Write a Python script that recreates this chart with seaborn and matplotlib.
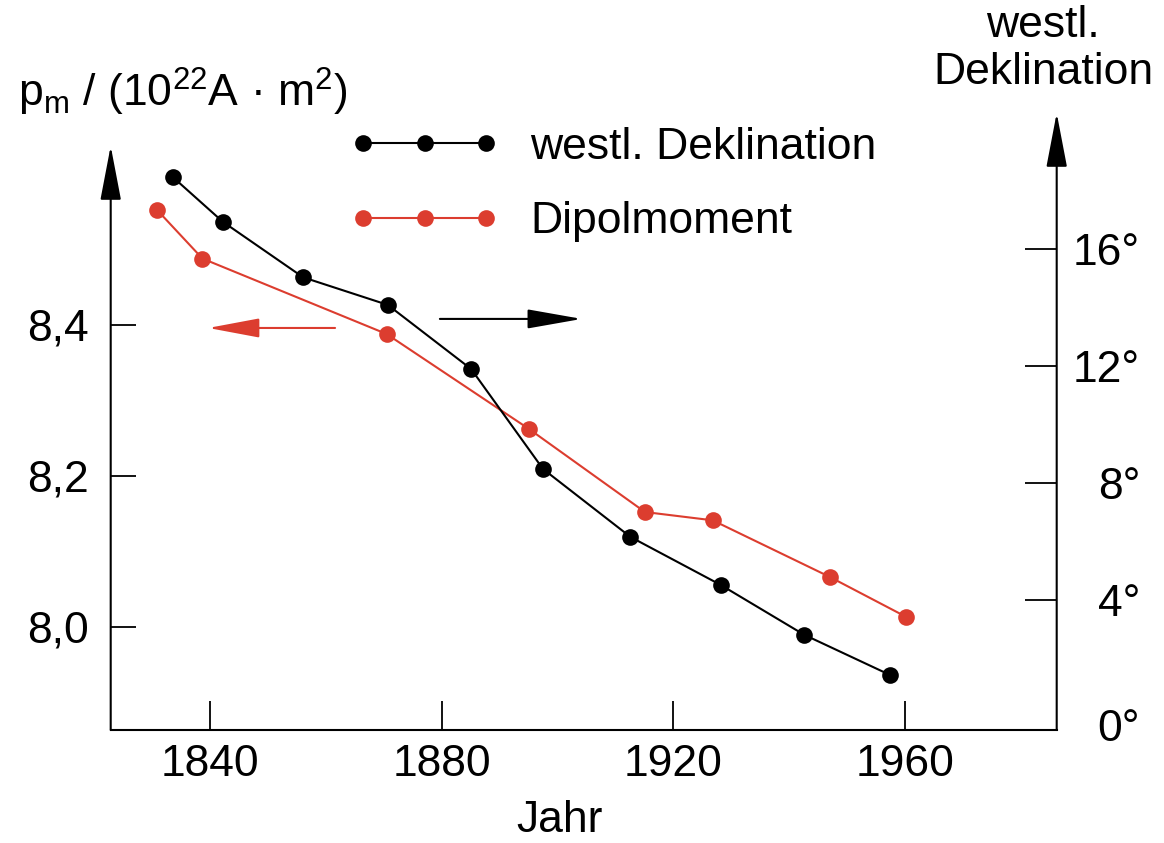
import matplotlib
matplotlib.use("Agg")
import matplotlib.pyplot as plt
import matplotlib.transforms as mtransforms
import seaborn as sns

# values
dipole_years = [1830.8, 1838.7, 1870.5, 1895.1, 1915.1, 1926.8, 1947.0, 1960.2]
dipole_moment = [8.553, 8.488, 8.388, 8.262, 8.152, 8.141, 8.066, 8.013]
decl_years = [1833.6, 1842.2, 1856.1, 1870.7, 1885.1, 1897.5, 1912.6, 1928.2, 1942.6, 1957.4]
decl_west = [18.44, 16.92, 15.02, 14.08, 11.89, 8.48, 6.16, 4.52, 2.82, 1.45]

year_ticks = [1840, 1880, 1920, 1960]
moment_ticks = [8.0, 8.2, 8.4]
moment_labels = ["8,0", "8,2", "8,4"]
decl_ticks = [0, 4, 8, 12, 16]
decl_labels = ["0°", "4°", "8°", "12°", "16°"]

RED = "#dc3d2f"
FS = 32
W, H = 1164, 843

sns.set_theme(style="white")
plt.rcParams["font.family"] = ["Liberation Sans", "DejaVu Sans"]
plt.rcParams["text.color"] = "black"
plt.rcParams["mathtext.fontset"] = "custom"
plt.rcParams["mathtext.rm"] = "Liberation Sans"
plt.rcParams["mathtext.it"] = "Liberation Sans:italic"

fig = plt.figure(figsize=(W / 100, H / 100), dpi=100)
ax = fig.add_axes([110.7 / W, 1 - 730 / H, 946 / W, 617 / H])
ax2 = ax.twinx()

sns.lineplot(x=dipole_years, y=dipole_moment, ax=ax, color=RED, marker="o",
             markersize=12, markeredgewidth=0, linewidth=1.5, legend=False)
sns.lineplot(x=decl_years, y=decl_west, ax=ax2, color="black", marker="o",
             markersize=12, markeredgewidth=0, linewidth=1.5, legend=False)

ax.set_xlim(1822.86, 1986.2)
ax.set_ylim(7.863, 8.681)
ax2.set_ylim(-0.43, 20.63)
for a in (ax, ax2):
    a.set_xlabel("")
    a.set_ylabel("")
    for s in a.spines.values():
        s.set_visible(False)
ax.spines["bottom"].set_visible(True)
ax.spines["bottom"].set_color("black")
ax.spines["bottom"].set_linewidth(1.5)

ax.set_xticks(year_ticks)
ax.set_xticklabels([str(y) for y in year_ticks])
ax.set_yticks(moment_ticks)
ax.set_yticklabels(moment_labels)
ax2.set_yticks(decl_ticks)
ax2.set_yticklabels(decl_labels)

ax.tick_params(axis="x", direction="in", bottom=True, length=21, width=1.3,
               pad=10, labelsize=FS, colors="black")
ax.tick_params(axis="y", direction="in", left=True, length=18, width=1.3,
               pad=16, labelsize=FS, colors="black")
ax2.tick_params(axis="y", direction="in", right=True, length=23, width=1.3,
                pad=60, labelsize=FS, colors="black")
for lbl in ax2.get_yticklabels():
    lbl.set_ha("right")
# the 0° mark sits on the bottom axis: no tick line, label a little lower
zero_tick = ax2.yaxis.get_major_ticks()[0]
zero_tick.tick2line.set_visible(False)
zero_tick.label2.set_transform(zero_tick.label2.get_transform()
                               + mtransforms.ScaledTranslation(0, -8 / 100, fig.dpi_scale_trans))

# axis lines with arrow heads
axis_arrow = dict(arrowstyle="-|>,head_length=3.4,head_width=0.65", color="black",
                  lw=1.5, shrinkA=0, shrinkB=0, mutation_scale=10)
ax.annotate("", xy=(0, (730 - 146) / 617), xytext=(0, 0), xycoords="axes fraction",
            arrowprops=axis_arrow, annotation_clip=False)
ax.annotate("", xy=(1, 1), xytext=(1, 0), xycoords="axes fraction",
            arrowprops=axis_arrow, annotation_clip=False)

# arrows telling which curve belongs to which axis
ax.annotate("", xy=(1839.7, 8.396), xytext=(1861.6, 8.396),
            arrowprops=dict(arrowstyle="-|>,head_length=3.2,head_width=0.6", color=RED,
                            lw=1.5, shrinkA=0, shrinkB=0, mutation_scale=10))
ax.annotate("", xy=(1904.2, 8.408), xytext=(1879.7, 8.408),
            arrowprops=dict(arrowstyle="-|>,head_length=3.4,head_width=0.6", color="black",
                            lw=1.5, shrinkA=0, shrinkB=0, mutation_scale=10))

ax2.legend(handles=[ax2.get_lines()[0], ax.get_lines()[0]],
           labels=["westl. Deklination", "Dipolmoment"],
           loc="upper left", bbox_to_anchor=(350 / W, 1 - 127 / H),
           bbox_transform=fig.transFigure, frameon=False, fontsize=FS,
           numpoints=3, handlelength=3.36, handletextpad=0.7, labelspacing=0.75,
           borderpad=0, borderaxespad=0, labelcolor="black")

fig.text(18 / W, 1 - 107 / H, r"p$_{\mathrm{m}}$ / (10$^{22}$A · m$^{2}$)",
         fontsize=FS, va="baseline", ha="left")
fig.text(1043 / W, 1 - 5 / H, "westl.\nDeklination", fontsize=FS, ha="center",
         va="top", multialignment="center")
fig.text(560 / W, 1 - 832 / H, "Jahr", fontsize=FS, ha="center", va="baseline")

fig.savefig("out.png", dpi=100)
